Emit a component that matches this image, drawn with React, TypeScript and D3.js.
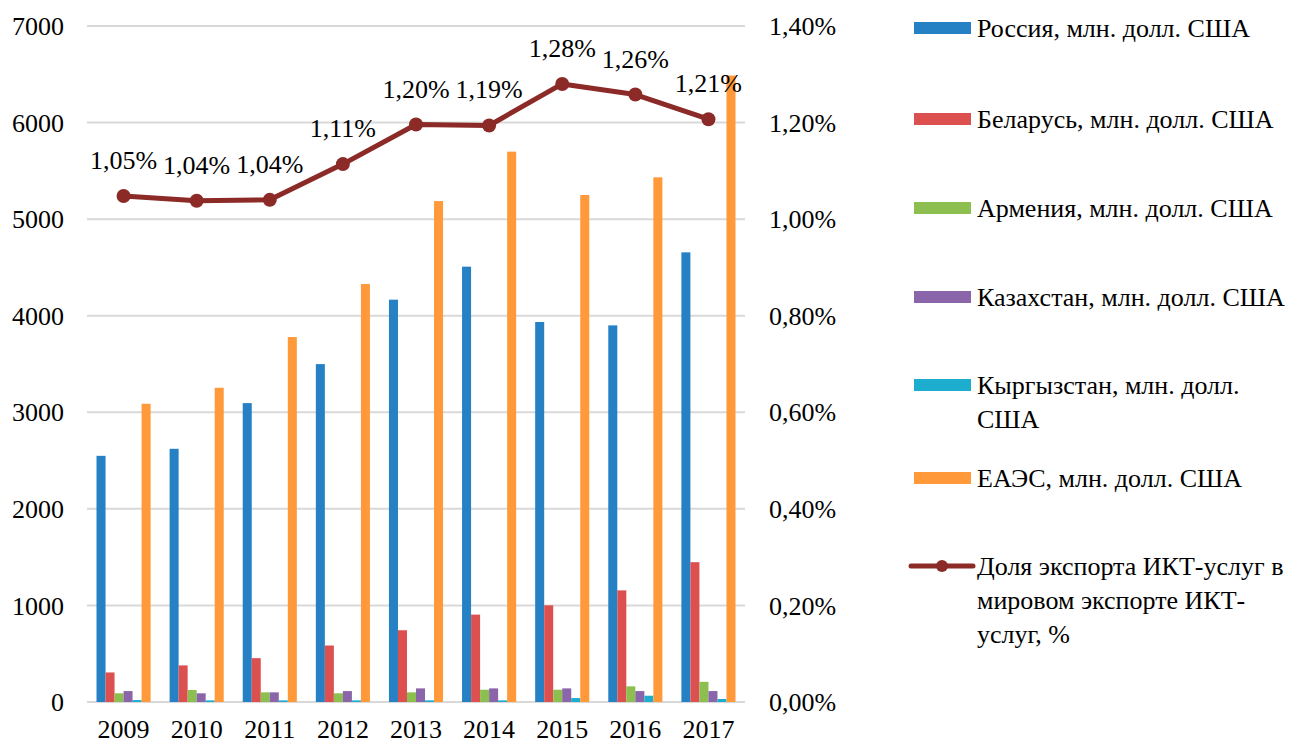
import { useEffect, useRef } from 'react';
import * as d3 from 'd3';

const years = ['2009', '2010', '2011', '2012', '2013', '2014', '2015', '2016', '2017'];

const russia = [2549, 2622, 3095, 3499, 4166, 4508, 3935, 3900, 4656];
const belarus = [306, 379, 454, 585, 743, 905, 1001, 1156, 1448];
const armenia = [90, 124, 100, 90, 100, 127, 127, 162, 209];
const kazakhstan = [113, 90, 100, 113, 141, 141, 141, 113, 113];
const kyrgyzstan = [20, 17, 17, 17, 17, 17, 41, 65, 31];
const eaeu = [3088, 3254, 3779, 4328, 5187, 5699, 5250, 5433, 6487];

// share of world ICT services exports, %
const share = [1.048, 1.038, 1.04, 1.114, 1.196, 1.194, 1.28, 1.258, 1.207];

const leftTicks = [0, 1000, 2000, 3000, 4000, 5000, 6000, 7000];
const rightTicks = [0, 0.2, 0.4, 0.6, 0.8, 1.0, 1.2, 1.4];

const barSeries = [
  { key: 'ru', values: russia, color: '#2581c4', label: ['Россия, млн. долл. США'] },
  { key: 'by', values: belarus, color: '#dd5050', label: ['Беларусь, млн. долл. США'] },
  { key: 'am', values: armenia, color: '#8cbf4f', label: ['Армения, млн. долл. США'] },
  { key: 'kz', values: kazakhstan, color: '#8a65aa', label: ['Казахстан, млн. долл. США'] },
  { key: 'kg', values: kyrgyzstan, color: '#1cadcf', label: ['Кыргызстан, млн. долл.', 'США'] },
  { key: 'eaeu', values: eaeu, color: '#ff993a', label: ['ЕАЭС, млн. долл. США'] },
];
const lineLabel = ['Доля экспорта ИКТ-услуг в', 'мировом экспорте ИКТ-', 'услуг, %'];
const lineColor = '#8b2a27';

const fmtPct = (v: number) => v.toFixed(2).replace('.', ',') + '%';

function App() {
  const svgRef = useRef<SVGSVGElement>(null);

  useEffect(() => {
    const width = 1298;
    const height = 743;
    const font = 'Liberation Serif, Times New Roman, DejaVu Serif, serif';
    const plot = { left: 87, right: 745, top: 26, bottom: 702 };

    const svg = d3.select(svgRef.current);
    svg.selectAll('*').remove();
    svg.attr('width', width).attr('height', height);

    const x0 = d3.scaleBand()
      .domain(years)
      .range([plot.left, plot.right])
      .paddingInner(0.26)
      .paddingOuter(0.13);

    const x1 = d3.scaleBand()
      .domain(barSeries.map(s => s.key))
      .range([0, x0.bandwidth()]);

    const y = d3.scaleLinear().domain([0, 7000]).range([plot.bottom, plot.top]);
    const yR = d3.scaleLinear().domain([0, 1.4]).range([plot.bottom, plot.top]);

    // Gridlines
    svg.append('g')
      .selectAll('line')
      .data(leftTicks)
      .join('line')
      .attr('x1', plot.left)
      .attr('x2', plot.right)
      .attr('y1', d => y(d))
      .attr('y2', d => y(d))
      .attr('stroke', '#d9d9d9')
      .attr('stroke-width', 2);

    // Left axis labels
    svg.append('g')
      .selectAll('text')
      .data(leftTicks)
      .join('text')
      .attr('x', 64)
      .attr('y', d => y(d))
      .attr('dy', '0.35em')
      .attr('text-anchor', 'end')
      .attr('font-family', font)
      .attr('font-size', 26)
      .attr('fill', '#000')
      .text(d => String(d));

    // Right axis labels
    svg.append('g')
      .selectAll('text')
      .data(rightTicks)
      .join('text')
      .attr('x', 769)
      .attr('y', d => yR(d))
      .attr('dy', '0.35em')
      .attr('text-anchor', 'start')
      .attr('font-family', font)
      .attr('font-size', 26)
      .attr('fill', '#000')
      .text(d => fmtPct(d));

    // X labels
    svg.append('g')
      .selectAll('text')
      .data(years)
      .join('text')
      .attr('x', d => (x0(d) ?? 0) + x0.bandwidth() / 2)
      .attr('y', 738)
      .attr('text-anchor', 'middle')
      .attr('font-family', font)
      .attr('font-size', 26)
      .attr('fill', '#000')
      .text(d => d);

    // Bars
    const groups = svg.append('g')
      .selectAll('g')
      .data(years)
      .join('g')
      .attr('transform', d => `translate(${x0(d)},0)`);

    groups.selectAll('rect')
      .data((_, i) => barSeries.map(s => ({ key: s.key, color: s.color, value: s.values[i] })))
      .join('rect')
      .attr('x', d => x1(d.key) ?? 0)
      .attr('y', d => y(d.value))
      .attr('width', x1.bandwidth())
      .attr('height', d => plot.bottom - y(d.value))
      .attr('fill', d => d.color);

    // Line
    const pts = years.map((yr, i) => ({ x: (x0(yr) ?? 0) + x0.bandwidth() / 2, v: share[i] }));
    const line = d3.line<{ x: number; v: number }>()
      .x(d => d.x)
      .y(d => yR(d.v));

    svg.append('path')
      .datum(pts)
      .attr('fill', 'none')
      .attr('stroke', lineColor)
      .attr('stroke-width', 5)
      .attr('stroke-linejoin', 'round')
      .attr('d', line);

    svg.append('g')
      .selectAll('circle')
      .data(pts)
      .join('circle')
      .attr('cx', d => d.x)
      .attr('cy', d => yR(d.v))
      .attr('r', 7)
      .attr('fill', lineColor);

    svg.append('g')
      .selectAll('text')
      .data(pts)
      .join('text')
      .attr('x', d => d.x)
      .attr('y', d => yR(d.v) - 27)
      .attr('text-anchor', 'middle')
      .attr('font-family', font)
      .attr('font-size', 26)
      .attr('fill', '#000')
      .text(d => fmtPct(d.v));

    // Legend
    const legendRows = [28, 119, 208, 297, 385, 478];
    const lineH = 34;
    const legend = svg.append('g');

    barSeries.forEach((s, i) => {
      const cy = legendRows[i];
      legend.append('rect')
        .attr('x', 914)
        .attr('y', cy - 6)
        .attr('width', 57)
        .attr('height', 12)
        .attr('fill', s.color);
      const t = legend.append('text')
        .attr('font-family', font)
        .attr('font-size', 26)
        .attr('fill', '#000');
      s.label.forEach((ln, j) => {
        t.append('tspan')
          .attr('x', 977)
          .attr('y', cy + j * lineH)
          .attr('dy', '0.35em')
          .text(ln);
      });
    });

    const ly = 566;
    legend.append('line')
      .attr('x1', 911)
      .attr('x2', 973)
      .attr('y1', ly)
      .attr('y2', ly)
      .attr('stroke', lineColor)
      .attr('stroke-width', 5)
      .attr('stroke-linecap', 'round');
    legend.append('circle')
      .attr('cx', 942)
      .attr('cy', ly)
      .attr('r', 6)
      .attr('fill', lineColor);
    const lt = legend.append('text')
      .attr('font-family', font)
      .attr('font-size', 26)
      .attr('fill', '#000');
    lineLabel.forEach((ln, j) => {
      lt.append('tspan')
        .attr('x', 977)
        .attr('y', ly + j * lineH)
        .attr('dy', '0.35em')
        .text(ln);
    });
  }, []);

  return (
    <div style={{ position: 'absolute', left: 0, top: 0, background: '#fff' }}>
      <svg ref={svgRef} style={{ display: 'block' }}></svg>
    </div>
  );
}

export default App;
